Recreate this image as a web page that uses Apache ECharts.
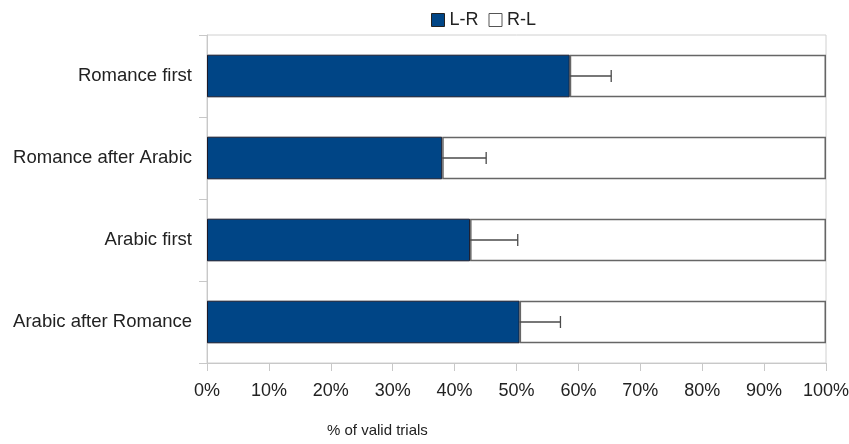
<!DOCTYPE html>
<html>
<head>
<meta charset="utf-8">
<script src="https://cdn.jsdelivr.net/npm/echarts@6/dist/echarts.min.js"></script>
<style>
  html, body { margin: 0; padding: 0; background: #fff; }
  #chart { width: 849px; height: 444px; }
</style>
</head>
<body>
<div id="chart"></div>
<script>
// categories, top to bottom
const categories = ['Romance first', 'Romance after Arabic', 'Arabic first', 'Arabic after Romance'];
// % of L-R trials, rest is R-L
const lrValues = [58.6, 38.0, 42.5, 50.5];
const rlValues = lrValues.map(v => +(100 - v).toFixed(1));
// upper end of the error bar on L-R
const lrUpper = [65.3, 45.1, 50.2, 57.1];
const xTicks = [0, 10, 20, 30, 40, 50, 60, 70, 80, 90, 100];

const chart = echarts.init(document.getElementById('chart'));
const font = 'Liberation Sans';

chart.setOption({
  animation: false,
  legend: {
    top: 6,
    left: 426,
    itemWidth: 13,
    itemHeight: 13,
    itemGap: 10,
    textStyle: { fontFamily: font, fontSize: 18, color: '#222' },
    data: [
      { name: 'L-R', icon: 'rect', itemStyle: { color: '#004586', borderColor: '#222', borderWidth: 1 } },
      { name: 'R-L', icon: 'rect', itemStyle: { color: '#fff', borderColor: '#555', borderWidth: 1 } }
    ]
  },
  title: {
    text: '% of valid trials',
    left: 327,
    top: 423,
    padding: 0,
    textStyle: { fontFamily: font, fontSize: 15, fontWeight: 'normal', color: '#222' }
  },
  grid: {
    left: 207, right: 23, top: 35, bottom: 81,
    outerBoundsMode: 'none',
    show: true, borderColor: '#d0d0d0', borderWidth: 1
  },
  xAxis: {
    type: 'value',
    min: 0,
    max: 100,
    interval: 10,
    axisLine: { show: true, lineStyle: { color: '#c8c8c8' } },
    axisTick: { show: true, length: 8, lineStyle: { color: '#c8c8c8' } },
    splitLine: { show: false },
    axisLabel: {
      margin: 19,
      fontFamily: font, fontSize: 18, color: '#222',
      formatter: v => xTicks.includes(v) ? v + '%' : ''
    }
  },
  yAxis: {
    type: 'category',
    inverse: true,
    data: categories,
    axisLine: { show: true, lineStyle: { color: '#c8c8c8' } },
    axisTick: { show: true, length: 8, lineStyle: { color: '#c8c8c8' } },
    axisLabel: { margin: 15, fontFamily: font, fontSize: 18.5, color: '#222' }
  },
  series: [
    {
      name: 'L-R',
      type: 'bar',
      stack: 'total',
      barWidth: '52%',
      itemStyle: { color: '#004586', borderColor: '#1a1a2a', borderWidth: 1 },
      data: lrValues
    },
    {
      name: 'R-L',
      type: 'bar',
      stack: 'total',
      itemStyle: { color: '#fff', borderColor: '#666', borderWidth: 1.5 },
      data: rlValues
    },
    {
      name: 'err',
      type: 'custom',
      silent: true,
      z: 10,
      data: lrValues.map((v, i) => [i, v, lrUpper[i]]),
      encode: { x: [1, 2], y: 0 },
      renderItem: function (params, api) {
        const i = api.value(0);
        const start = api.coord([api.value(1), i]);
        const end = api.coord([api.value(2), i]);
        const half = 6;
        const style = { stroke: '#4a4a4a', lineWidth: 1.3 };
        return {
          type: 'group',
          children: [
            { type: 'line', shape: { x1: start[0], y1: start[1], x2: end[0], y2: end[1] }, style: style },
            { type: 'line', shape: { x1: end[0], y1: end[1] - half, x2: end[0], y2: end[1] + half }, style: style }
          ]
        };
      }
    }
  ]
});
</script>
</body>
</html>
